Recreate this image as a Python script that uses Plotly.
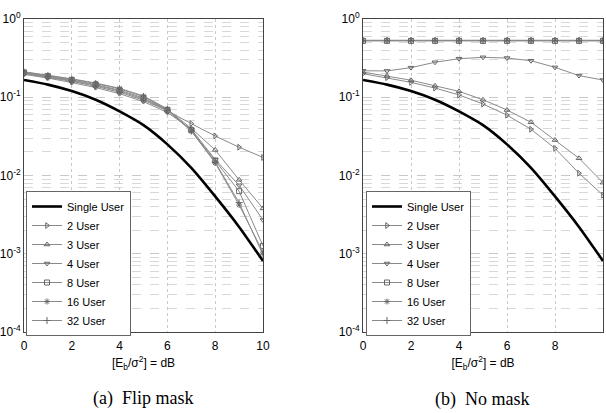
import plotly.graph_objects as go

x_db = [0, 1, 2, 3, 4, 5, 6, 7, 8, 9, 10]
series_names = ["Single User", "2 User", "3 User", "4 User", "8 User", "16 User", "32 User"]

# (a) Flip mask
flip_single = [0.166, 0.145, 0.120, 0.093, 0.066, 0.044, 0.025, 0.0125, 0.0054, 0.0022, 0.00081]
flip_2 = [0.200, 0.180, 0.160, 0.138, 0.116, 0.092, 0.067, 0.046, 0.032, 0.023, 0.017]
flip_3 = [0.210, 0.190, 0.170, 0.150, 0.128, 0.102, 0.070, 0.040, 0.0212, 0.0088, 0.0038]
flip_4 = [0.196, 0.176, 0.154, 0.133, 0.111, 0.088, 0.064, 0.039, 0.0160, 0.0075, 0.0027]
flip_8 = [0.207, 0.186, 0.166, 0.145, 0.123, 0.098, 0.069, 0.038, 0.0155, 0.0063, 0.00126]
flip_16 = [0.212, 0.192, 0.172, 0.152, 0.130, 0.104, 0.071, 0.037, 0.0145, 0.0042, 0.00105]
flip_32 = [0.204, 0.183, 0.163, 0.142, 0.120, 0.095, 0.068, 0.037, 0.0148, 0.0045, 0.00097]

# (b) No mask
nomask_single = [0.166, 0.145, 0.120, 0.093, 0.066, 0.044, 0.025, 0.0125, 0.0054, 0.0022, 0.00081]
nomask_2 = [0.200, 0.178, 0.155, 0.131, 0.107, 0.082, 0.059, 0.039, 0.0222, 0.0107, 0.0056]
nomask_3 = [0.210, 0.187, 0.165, 0.140, 0.119, 0.093, 0.0687, 0.048, 0.0284, 0.0166, 0.0081]
nomask_4 = [0.218, 0.217, 0.239, 0.280, 0.311, 0.324, 0.317, 0.293, 0.241, 0.189, 0.166]
nomask_8 = [0.525] * 11
nomask_16 = [0.535] * 11
nomask_32 = [0.530] * 11

y_tickvals = [1e-4, 1e-3, 1e-2, 1e-1, 1]
y_ticktext = ["10<sup>-4</sup>", "10<sup>-3</sup>", "10<sup>-2</sup>", "10<sup>-1</sup>", "10<sup>0</sup>"]
x_tickvals = [0, 2, 4, 6, 8, 10]
captions = ["(a)  Flip mask", "(b)  No mask"]

NARROW = "Liberation Sans Narrow, Arial Narrow, Liberation Sans, Arial, sans-serif"
GRAY = "#8a8a8a"
MARK = "#666666"
symbols = [None, "triangle-right-open", "triangle-up-open", "triangle-down-open",
           "square-open", "asterisk-open", "cross-thin-open"]

fig = go.Figure()

panels = [
    ("x", "y", "legend", [flip_single, flip_2, flip_3, flip_4, flip_8, flip_16, flip_32]),
    ("x2", "y2", "legend2", [nomask_single, nomask_2, nomask_3, nomask_4, nomask_8, nomask_16, nomask_32]),
]

for xa, ya, leg, data in panels:
    for i, (name, vals) in enumerate(zip(series_names, data)):
        if i == 0:
            fig.add_trace(go.Scatter(
                x=x_db, y=vals, name=name, mode="lines", xaxis=xa, yaxis=ya, legend=leg,
                line=dict(color="black", width=2.6, shape="spline", smoothing=0.6)))
        else:
            fig.add_trace(go.Scatter(
                x=x_db, y=vals, name=name, mode="lines+markers", xaxis=xa, yaxis=ya, legend=leg,
                line=dict(color=GRAY, width=1),
                marker=dict(symbol=symbols[i], size=5, color=MARK,
                            line=dict(color=MARK, width=1))))

W, H = 606, 413
xdom1 = [24 / W, 263 / W]
xdom2 = [363 / W, 603 / W]
ydom = [(H - 332) / H, (H - 19) / H]

axis_common = dict(showline=True, linecolor="#444", linewidth=1, mirror=True,
                   ticks="", zeroline=False, automargin=False)

xaxis_common = dict(axis_common, range=[0, 10], tickvals=x_tickvals,
                    showgrid=True, gridcolor="#c8c8c8", griddash="dot", gridwidth=1,
                    ticklabelstandoff=3,
                    tickfont=dict(family=NARROW, size=12, color="black"),
                    title=dict(text="[E<sub>b</sub>/σ<sup>2</sup>] = dB",
                               font=dict(family=NARROW, size=12, color="black"), standoff=6))

yaxis_common = dict(axis_common, type="log", range=[-4, 0],
                    tickvals=y_tickvals, ticktext=y_ticktext,
                    showgrid=True, gridcolor="#c8c8c8", griddash="dash", gridwidth=1,
                    minor=dict(showgrid=True, gridcolor="#d8d8d8", griddash="dash", dtick="D1"),
                    tickfont=dict(family=NARROW, size=12, color="black"))

legend_common = dict(bgcolor="white", bordercolor="#666", borderwidth=1,
                     font=dict(family=NARROW, size=11, color="black"),
                     xanchor="left", yanchor="top", itemwidth=30, tracegroupgap=0)

fig.update_layout(
    width=W, height=H,
    margin=dict(l=0, r=0, t=0, b=0, autoexpand=False),
    paper_bgcolor="white", plot_bgcolor="white",
    xaxis=dict(xaxis_common, domain=xdom1, anchor="y"),
    yaxis=dict(yaxis_common, domain=ydom, anchor="x"),
    xaxis2=dict(xaxis_common, domain=xdom2, anchor="y2"),
    yaxis2=dict(yaxis_common, domain=ydom, anchor="x2"),
    legend=dict(legend_common, x=26 / W, y=1 - 191 / H),
    legend2=dict(legend_common, x=366 / W, y=1 - 191 / H),
    showlegend=True,
)

fig.add_annotation(text=captions[0], x=143 / W, y=1 - 398 / H, xref="paper", yref="paper",
                   showarrow=False, xanchor="center", yanchor="middle",
                   font=dict(family="Liberation Serif, Times New Roman, serif", size=18, color="black"))
fig.add_annotation(text=captions[1], x=482 / W, y=1 - 399 / H, xref="paper", yref="paper",
                   showarrow=False, xanchor="center", yanchor="middle",
                   font=dict(family="Liberation Serif, Times New Roman, serif", size=18, color="black"))

fig.write_html("out.html", config={"displayModeBar": False},
               post_script="document.body.style.margin='0';document.body.style.overflow='hidden';")
